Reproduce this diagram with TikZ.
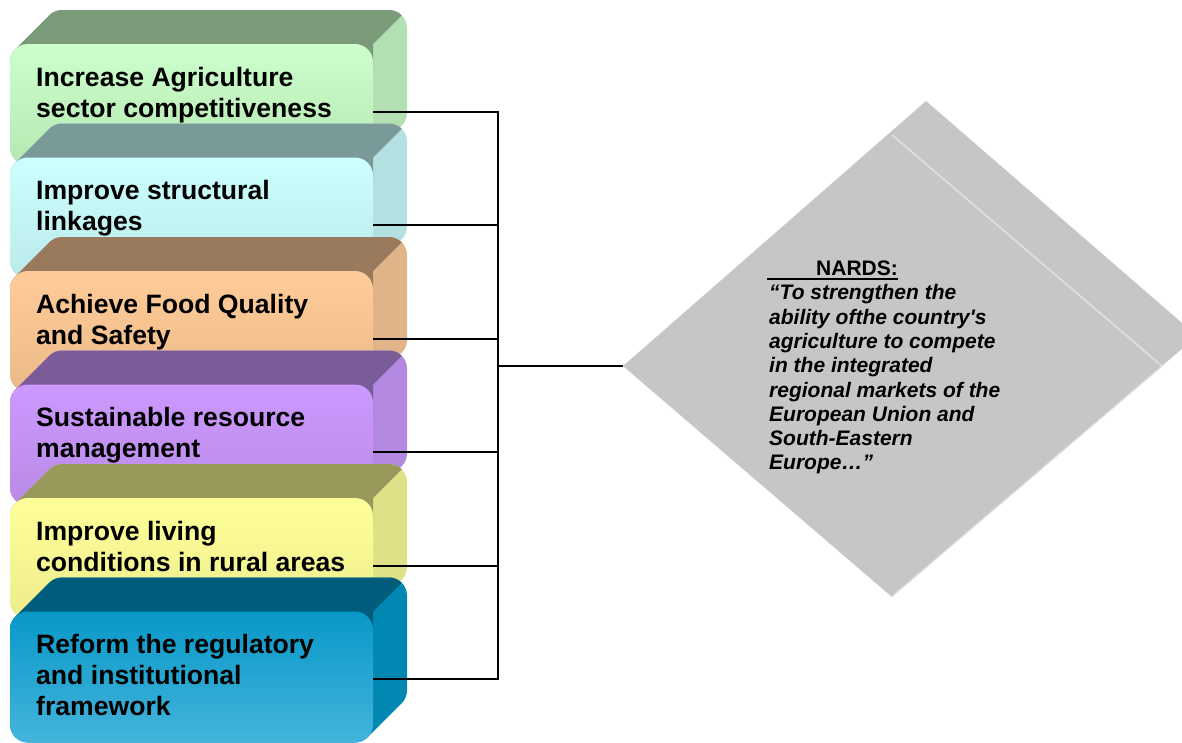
\documentclass[tikz,border=0pt]{standalone}
\usepackage{fontspec}
\setmainfont{Liberation Sans}
\definecolor{f1a}{HTML}{CCFFCC}\definecolor{f1b}{HTML}{B6E8B2}\definecolor{t1}{HTML}{7A9A7A}\definecolor{s1}{HTML}{B3E0B3}
\definecolor{f2a}{HTML}{CCFFFF}\definecolor{f2b}{HTML}{BBEAEA}\definecolor{t2}{HTML}{7A9999}\definecolor{s2}{HTML}{B3E0E0}
\definecolor{f3a}{HTML}{FFCC99}\definecolor{f3b}{HTML}{ECBA88}\definecolor{t3}{HTML}{9A7A5C}\definecolor{s3}{HTML}{E0B488}
\definecolor{f4a}{HTML}{CC99FF}\definecolor{f4b}{HTML}{B98AE6}\definecolor{t4}{HTML}{7A5C99}\definecolor{s4}{HTML}{B388E0}
\definecolor{f5a}{HTML}{FFFF99}\definecolor{f5b}{HTML}{ECEC8C}\definecolor{t5}{HTML}{99995C}\definecolor{s5}{HTML}{E0E088}
\definecolor{f6a}{HTML}{0898C8}\definecolor{f6b}{HTML}{44B4DC}\definecolor{t6}{HTML}{005C7A}\definecolor{s6}{HTML}{0088B3}
\definecolor{dgray}{HTML}{C6C6C6}\definecolor{dlight}{HTML}{DCDCDC}
% silhouette of an extruded rounded box: front top #1, front height #2
\newcommand\blockpath[2]{(10,#1+#2-18) -- (10,#1+18)
  arc[start angle=180,end angle=225,radius=18] -- (49.27,#1-28.73)
  arc[start angle=225,end angle=270,radius=18] -- (389,#1-34)
  arc[start angle=270,end angle=360,radius=18] -- (407,#1-34+#2-18)
  arc[start angle=0,end angle=45,radius=18] -- (367.73,#1+#2-5.27)
  arc[start angle=45,end angle=90,radius=18] -- (28,#1+#2)
  arc[start angle=90,end angle=180,radius=18] -- cycle}
\newcommand\stackblock[6]{%
  \begin{scope}
    \fill[#6] \blockpath{#1}{#2};
    \clip \blockpath{#1}{#2};
    \fill[#5] (-10,#1+30) -- (-10,#1-60) -- (433,#1-60) -- (373,#1) -- (373,#1+30) -- cycle;
  \end{scope}
  \shade[top color=#3, bottom color=#4, rounded corners=18] (10,#1) rectangle (373,#1+#2);
}
\tikzset{
  blocktext/.style={font=\fontsize{26.6}{31}\selectfont\bfseries, align=left, inner sep=0pt, anchor=north west, text=black},
  quotetext/.style={font=\fontsize{21}{24.3}\selectfont\bfseries, align=left, inner sep=0pt, anchor=north west, text=black},
  conn/.style={line width=1.6pt, black},
}
\begin{document}
\begin{tikzpicture}[x=1pt, y=-1pt]
\useasboundingbox (0,0) rectangle (1182,742);
\clip (0,0) rectangle (1182,742);
% blocks
\stackblock{44}{121}{f1a}{f1b}{t1}{s1}
\stackblock{157.5}{121}{f2a}{f2b}{t2}{s2}
\stackblock{271}{121}{f3a}{f3b}{t3}{s3}
\stackblock{384.5}{121}{f4a}{f4b}{t4}{s4}
\stackblock{498}{121}{f5a}{f5b}{t5}{s5}
\stackblock{611.5}{131}{f6a}{f6b}{t6}{s6}
% block texts
\node[blocktext] (b1) at (36,66.8) {Increase Agriculture\\sector competitiveness};
\node[blocktext] (b2) at (36,180.3) {Improve structural\\linkages};
\node[blocktext] (b3) at (36,293.8) {Achieve Food Quality\\and Safety};
\node[blocktext] (b4) at (36,407.3) {Sustainable resource\\management};
\node[blocktext] (b5) at (36,520.8) {Improve living\\conditions in rural areas};
\node[blocktext] (b6) at (36,634.3) {Reform the regulatory\\and institutional\\framework};
% diamond
\coordinate (dl) at (623,366);
\coordinate (dt) at (926,101);
\coordinate (dr) at (1197,336);
\coordinate (db) at (892,597);
\coordinate (fa) at (892,135);
\coordinate (fb) at (1162,366);
\fill[dgray] (dl) -- (dt) -- (dr) -- (db) -- cycle;
\draw[dlight, line width=2pt] (fa) -- (fb);
\draw[dlight, line width=1.2pt] (fb) -- ([shift={(-1,0)}]db);
\node[quotetext] (nards) at (769,260.7) {\hspace*{-2pt}\makebox[0pt][l]{\rule[-4.6pt]{131pt}{2pt}}\hspace*{49pt}NARDS:\\
\itshape “To strengthen the\\
\itshape ability ofthe country\textquotesingle s\\
\itshape agriculture to compete\\
\itshape in the integrated\\
\itshape regional markets of the\\
\itshape European Union and\\
\itshape South-Eastern\\
\itshape Europe…”};
% connectors
\coordinate (e1) at (373,112);
\coordinate (e2) at (373,225);
\coordinate (e3) at (373,339);
\coordinate (e4) at (373,452);
\coordinate (e5) at (373,566);
\coordinate (e6) at (373,679);
\coordinate (bus) at (498,366);
\draw[conn] (e1) -| (bus);
\draw[conn] (e6) -| (bus);
\draw[conn] (e2) -- (e2 -| bus);
\draw[conn] (e3) -- (e3 -| bus);
\draw[conn] (e4) -- (e4 -| bus);
\draw[conn] (e5) -- (e5 -| bus);
\draw[conn] (bus) -- (dl);
\end{tikzpicture}
\end{document}
